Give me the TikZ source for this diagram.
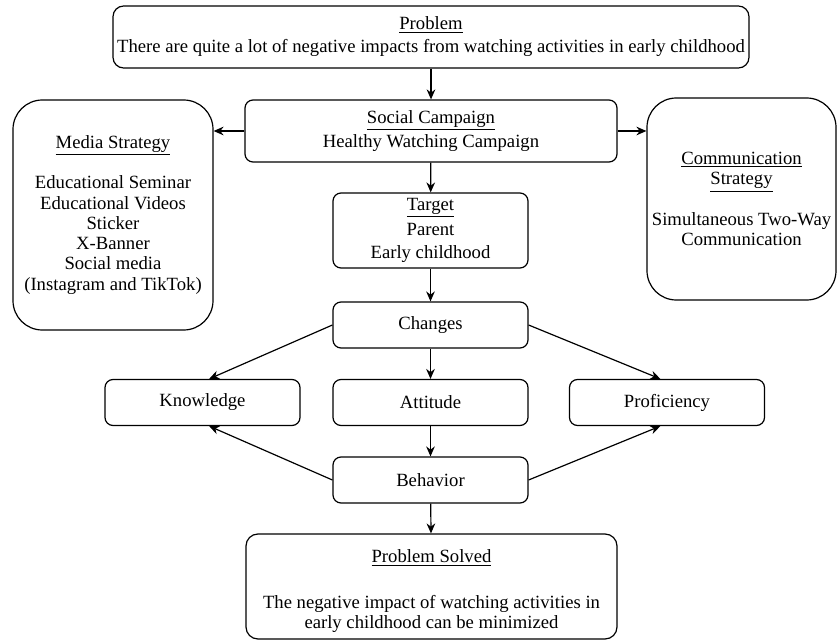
\documentclass[tikz,border=0pt]{standalone}
\usepackage{fontspec}
\setmainfont{Liberation Serif}
\usetikzlibrary{arrows.meta}

\begin{document}
\begin{tikzpicture}[x=0.75pt, y=-0.75pt, line width=0.9pt, >={Stealth[length=7.5pt,width=6.5pt]}]
\tikzstyle{box}=[draw, rounded corners=6pt, align=center, inner sep=0pt,
  font=\fontsize{14}{15.2}\selectfont, minimum width=146.25pt, minimum height=34.5pt]
\tikzstyle{big}=[box, rounded corners=22pt]
\useasboundingbox (0,0) rectangle (840,642);

\node[box, rounded corners=8pt, minimum width=477pt, minimum height=46.5pt](problem) at (431, 37)
  {\underline{Problem}\\[2pt] There are quite a lot of negative impacts from watching activities in early childhood};
\node[box, minimum width=279pt, minimum height=46.5pt](social) at (431, 131)
  {\underline{Social Campaign}\\[3pt] Healthy Watching Campaign};
\node[big, minimum width=150pt, minimum height=172.5pt](media) at (113, 215)
  {\underline{Media Strategy}\\[15pt] Educational Seminar\\ Educational Videos\\ Sticker\\ X-Banner\\ Social media\\ (Instagram and TikTok)};
\node[big, minimum width=141.75pt, minimum height=151.5pt](comm) at (741.5, 199)
  {\underline{Communication}\\ \underline{Strategy}\\[15pt] Simultaneous Two-Way\\ Communication};
\node[box, minimum height=56.25pt](target) at (430.5, 230.5)
  {\underline{Target}\\[4pt] Parent\\[2pt] Early childhood};
\node[box](changes)     at (430.5, 325)   {Changes};
\node[box](knowledge)   at (202.5, 402.5) {Knowledge};
\node[box](attitude)    at (430.5, 402.5) {Attitude};
\node[box](proficiency) at (667, 402.5)   {Proficiency};
\node[box](behavior)    at (430.5, 480)   {Behavior};
\node[box, rounded corners=9pt, minimum width=278.25pt, minimum height=78.75pt](solved) at (431.5, 586.5)
  {\rule{0pt}{17pt}\underline{Problem Solved}\\[19pt] The negative impact of watching activities in\\ early childhood can be minimized};

\draw[->] (problem) -- (social);
\draw[->] (social.west) -- (social.west -| media.east);
\draw[->] (social.east) -- (social.east -| comm.west);
\draw[->] (social) -- (target);
\draw[->] (target) -- (changes);
\draw[->] (changes.west) -- ([xshift=5]knowledge.north);
\draw[->] (changes) -- (attitude);
\draw[->] (changes.east) -- ([xshift=-5]proficiency.north);
\draw[->] (attitude) -- (behavior);
\draw[->] (behavior.west) -- ([xshift=5]knowledge.south);
\draw[->] (behavior.east) -- ([xshift=-5]proficiency.south);
\draw[->] (behavior) -- (solved);
\end{tikzpicture}
\end{document}
